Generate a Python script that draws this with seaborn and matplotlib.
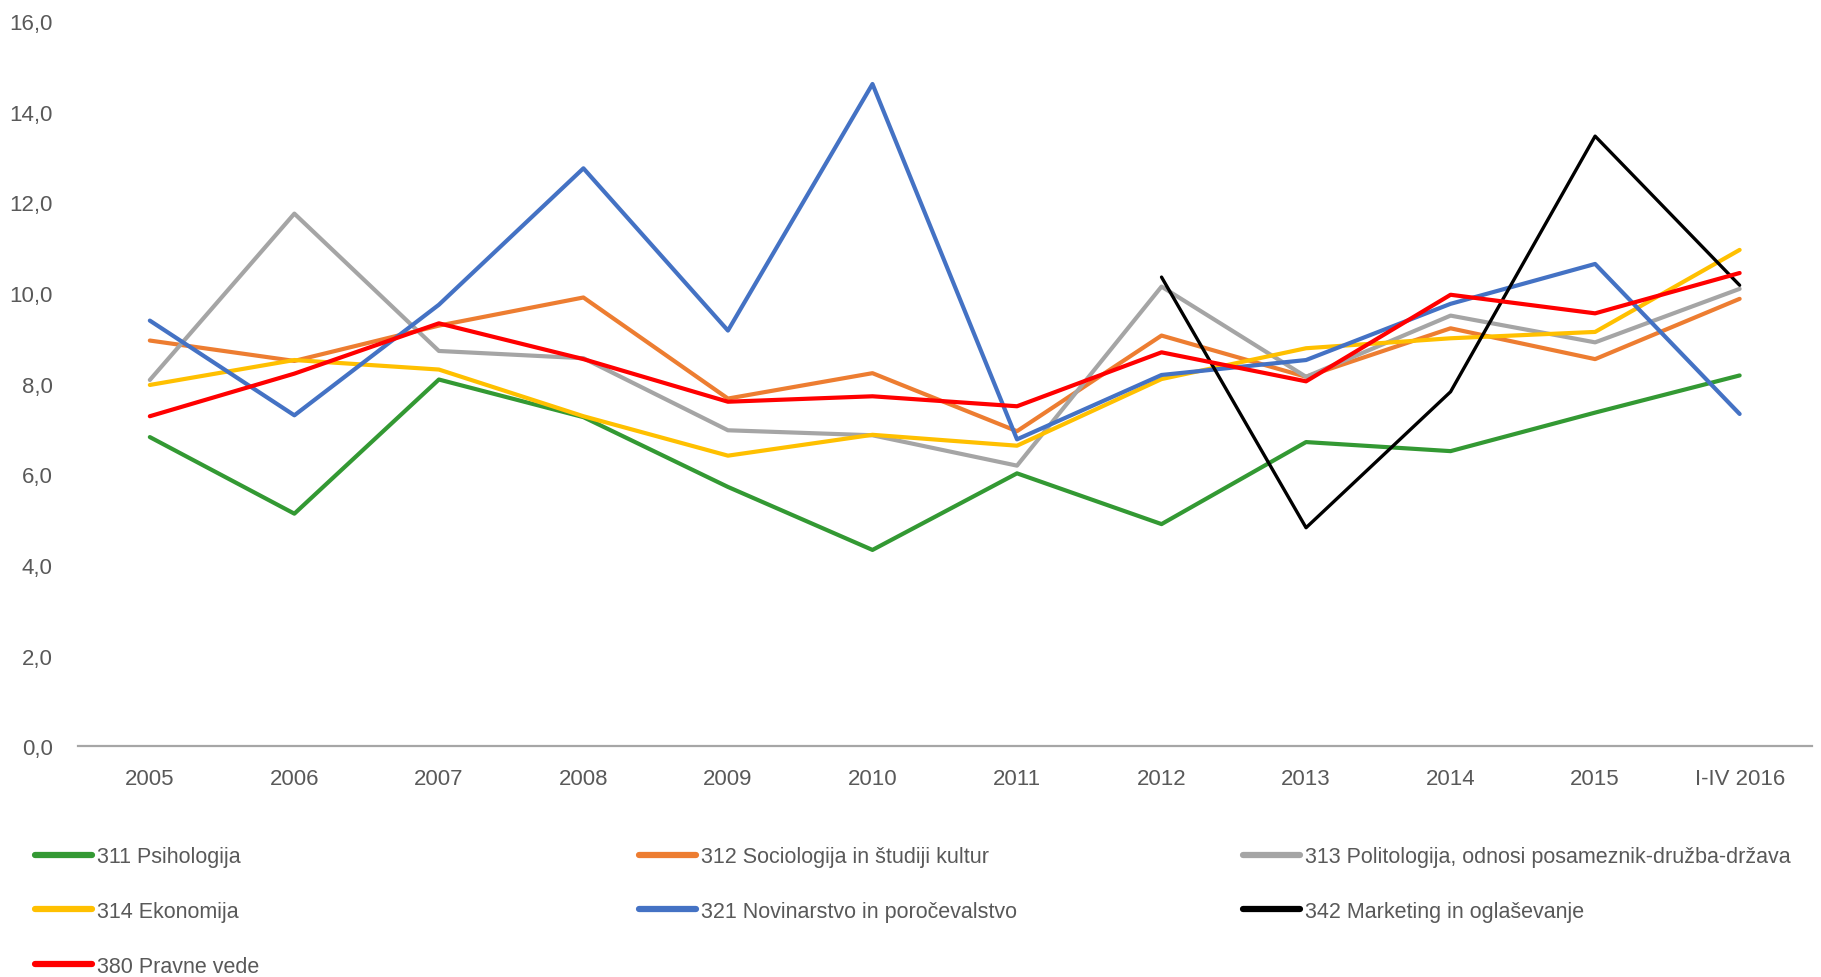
import numpy as np
import pandas as pd
import matplotlib
matplotlib.use("Agg")
import matplotlib.pyplot as plt
import seaborn as sns
from matplotlib.ticker import FuncFormatter

# categories (x axis)
years = ["2005", "2006", "2007", "2008", "2009", "2010", "2011",
         "2012", "2013", "2014", "2015", "I-IV 2016"]

# series values
psihologija = [6.82, 5.13, 8.09, 7.26, 5.72, 4.33, 6.02, 4.90, 6.71, 6.51, 7.36, 8.18]
sociologija = [8.95, 8.50, 9.28, 9.90, 7.67, 8.23, 6.95, 9.06, 8.15, 9.22, 8.54, 9.87]
politologija = [8.08, 11.75, 8.72, 8.56, 6.97, 6.86, 6.19, 10.14, 8.15, 9.50, 8.91, 10.09]
ekonomija = [7.97, 8.52, 8.31, 7.28, 6.41, 6.87, 6.63, 8.10, 8.78, 9.00, 9.14, 10.95]
novinarstvo = [9.39, 7.30, 9.74, 12.75, 9.17, 14.61, 6.77, 8.19, 8.52, 9.76, 10.64, 7.33]
marketing = [None, None, None, None, None, None, None, 10.35, 4.82, 7.82, 13.46, 10.17]
pravne = [7.28, 8.22, 9.33, 8.54, 7.60, 7.72, 7.50, 8.69, 8.05, 9.96, 9.55, 10.44]

labels = ["311 Psihologija", "312 Sociologija in študiji kultur",
          "313 Politologija, odnosi posameznik-družba-država", "314 Ekonomija",
          "321 Novinarstvo in poročevalstvo", "342 Marketing in oglaševanje",
          "380 Pravne vede"]
colors = ["#339933", "#ED7D31", "#A5A5A5", "#FFC000", "#4472C4", "#000000", "#FF0000"]
series = [psihologija, sociologija, politologija, ekonomija, novinarstvo, marketing, pravne]

sns.set_theme(style="white")
plt.rcParams['font.family'] = ['Liberation Sans', 'DejaVu Sans']

fig = plt.figure(figsize=(18.21, 9.78), dpi=100)
ax = fig.add_axes([0.0426, 0.236, 0.9524, 0.7415])

for lab, col, vals in zip(labels, colors, series):
    df = pd.DataFrame({"pos": range(len(years)), "val": vals}).dropna()
    lw = 2.4 if col == "#000000" else 3.0
    sns.lineplot(data=df, x="pos", y="val", ax=ax, color=col, linewidth=lw,
                 label=lab, legend=False)

ax.set_xlim(-0.5, len(years) - 0.5)
ax.set_ylim(0, 16)
ax.set_xticks(range(len(years)))
ax.set_xticklabels(years)
ax.set_yticks(np.arange(0, 17, 2))
ax.yaxis.set_major_formatter(FuncFormatter(lambda v, p: f"{v:.1f}".replace(".", ",")))
ax.set_xlabel("")
ax.set_ylabel("")
ax.tick_params(axis='both', length=0, labelsize=16, colors="#595959")
ax.tick_params(axis='y', pad=18)
ax.tick_params(axis='x', pad=16)
for s in ["top", "left", "right"]:
    ax.spines[s].set_visible(False)
ax.spines["bottom"].set_color("#A6A6A6")
ax.spines["bottom"].set_linewidth(1.6)

# legend in three fixed-width columns, filled row by row
columns = [[0, 3, 6], [1, 4], [2, 5]]
col_x = [0.0192, 0.351, 0.6826]
for idx, cx in zip(columns, col_x):
    leg = fig.legend([plt.Line2D([], [], color=colors[i], linewidth=4.5) for i in idx],
                     [labels[i] for i in idx],
                     loc="upper left", bbox_to_anchor=(cx, 0.1335), frameon=False,
                     fontsize=15.5, handlelength=2.66, handletextpad=0.2,
                     labelspacing=1.56, borderpad=0, borderaxespad=0)
    for t in leg.get_texts():
        t.set_color("#595959")

fig.savefig("out.png", dpi=100)
